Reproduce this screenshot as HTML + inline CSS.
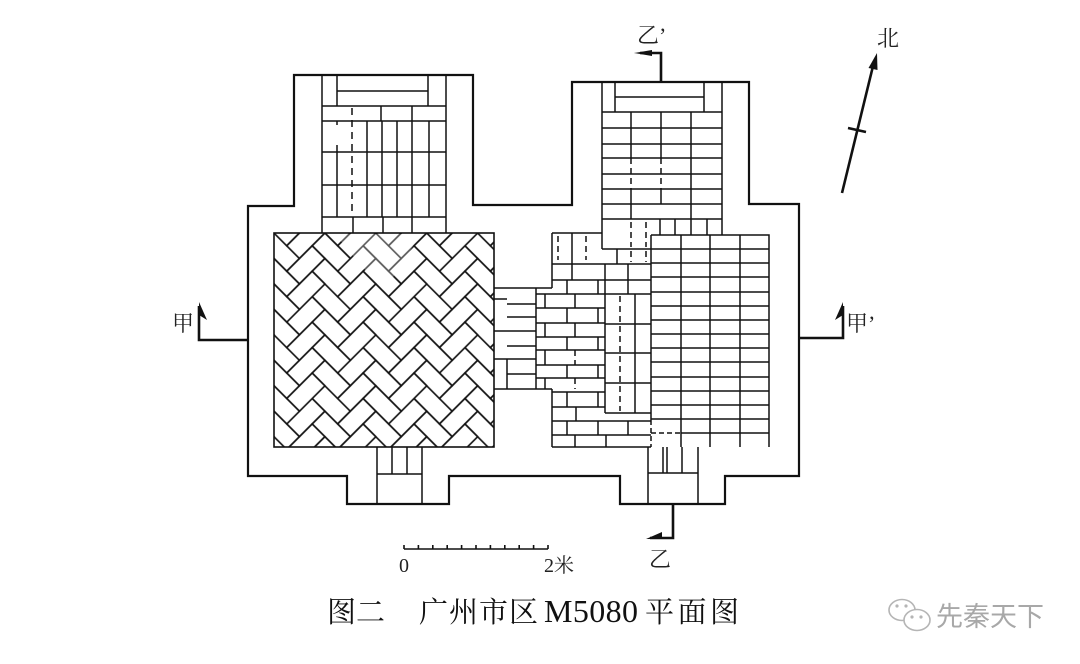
<!DOCTYPE html>
<html><head><meta charset="utf-8"><style>
html,body{margin:0;padding:0;background:#fff;}
svg{display:block;}
</style></head><body>
<svg width="1080" height="664" viewBox="0 0 1080 664" xmlns="http://www.w3.org/2000/svg">
<defs>
<g id="hb" fill="none" stroke="#111" stroke-width="1.5">
  <rect x="0" y="0" width="36" height="18"/><rect x="0" y="18" width="18" height="36"/>
  <rect x="18" y="18" width="36" height="18"/><rect x="18" y="36" width="18" height="36"/>
  <rect x="36" y="36" width="36" height="18"/><rect x="36" y="54" width="18" height="36"/>
  <rect x="54" y="54" width="36" height="18"/><rect x="54" y="72" width="18" height="36"/>
</g>
<pattern id="herr" patternUnits="userSpaceOnUse" width="72" height="72" patternTransform="translate(274,233) rotate(45)">
  <use href="#hb"/><use href="#hb" x="-72"/><use href="#hb" y="-72"/><use href="#hb" x="-72" y="-72"/>
</pattern>
</defs>
<rect width="1080" height="664" fill="#fff"/>

<!-- herringbone floor -->
<rect x="274" y="233" width="220" height="214" fill="url(#herr)"/>
<polygon points="335,234 420,234 400,268 383,290 360,264" fill="#fff" fill-opacity="0.3"/>
<rect x="274" y="233" width="220" height="214" fill="none" stroke="#111" stroke-width="1.6"/>

<!-- outer wall -->
<path d="M294,75 H473 V205 H572 V82 H749 V204 H799 V476 H725 V504 H620 V476 H449 V504 H347 V476 H248 V206 H294 Z" fill="none" stroke="#111" stroke-width="2.2"/>

<g fill="none" stroke="#111" stroke-width="1.5">
<!-- left column -->
<path d="M322,75 V233 M446,75 V233 M337,75 V106 M428,75 V106 M337,91 H428 M322,106 H446
M381,106 V121 M412,106 V121
M322,121 H446 M322,152 H446 M322,185 H446 M322,217 H446
M337,121 V125 M337,145 V217 M367,121 V217 M382,121 V217 M397,121 V217 M412,121 V217 M429,121 V217
M353,217 V233 M383,217 V233 M412,217 V233"/>
<path d="M352,108 V215" stroke-dasharray="7 5"/>

<!-- right column -->
<path d="M602,82 V249 M722,82 V235 M615,82 V112 M704,82 V112 M615,97 H704 M602,112 H722
M602,128 H722 M602,144 H722 M602,158 H722 M602,174 H722 M602,189 H722 M602,204 H722 M602,219 H722
M631,112 V158 M631,189 V219 M661,112 V158 M661,189 V204 M691,112 V235
M660,219 V235 M675,219 V235 M707,219 V235"/>
<path d="M631,158 V189 M661,158 V189 M631,222 V247 M646,222 V247" stroke-dasharray="6 4"/>

<!-- big grid -->
<path d="M651,235 H769 V447 M651,235 V420 M681,235 V447 M710,235 V447 M740,235 V447
M651,249 H769 M651,263 H769 M651,277 H769 M651,292 H769 M651,306 H769 M651,320 H769 M651,334 H769
M651,348 H769 M651,362 H769 M651,377 H769 M651,391 H769 M651,405 H769 M651,419 H769 M681,433 H769"/>
<path d="M651,420 V447 M651,433 H681" stroke-dasharray="5 3"/>

<!-- middle block -->
<path d="M552,233 H602 M552,233 V288 M494,288 H552 M536,288 V389 M494,389 H552 M552,389 V447 M552,447 H651
M602,249 H651 M617,249 V264 M552,264 H651 M572,233 V280 M605,264 V413 M628,264 V294
M552,280 H651 M567,280 V294 M598,280 V294 M536,294 H651
M545,294 V308 M575,294 V308 M536,308 H605 M567,308 V323 M598,308 V323 M536,323 H605
M545,323 V337 M575,323 V337 M536,337 H605 M567,337 V350 M598,337 V350 M536,350 H605
M545,350 V365 M536,365 H605 M567,365 V378 M598,365 V378 M536,378 H605 M545,378 V389
M552,392 H605 M567,392 V407 M598,392 V407 M552,407 H605 M576,407 V421
M605,324 H651 M605,353 H651 M605,383 H651 M605,413 H651 M635,294 V413
M552,421 H651 M567,421 V435 M598,421 V435 M628,421 V435 M552,435 H651 M575,435 V447 M606,435 V447"/>
<path d="M558,236 V260 M586,236 V260 M631,251 V262 M646,251 V262 M620,296 V411 M575,350 V365 M575,378 V389" stroke-dasharray="6 4"/>

<!-- passage -->
<path d="M494,299 H507 M507,304 H536 M507,317 H536 M494,331 H536 M507,346 H536 M494,359 H536 M507,374 H536 M507,359 V389"/>

<!-- bottom left entrance -->
<path d="M377,447 V504 M422,447 V504 M377,474 H422 M392,447 V474 M407,447 V474"/>
<!-- bottom right entrance -->
<path d="M648,447 V504 M698,447 V504 M648,473 H698 M663,447 V473 M667,447 V473 M682,447 V473"/>
</g>

<!-- section markers -->
<g fill="none" stroke="#111" stroke-width="2.6">
<path d="M248,340 H199 V306"/>
<path d="M798,338 H843 V306"/>
<path d="M661,82 V53 H640"/>
<path d="M673,504 V538 H650"/>
<path d="M842,193 L874,62"/>
<path d="M848,128 L866,132"/>
</g>
<g fill="#111">
<polygon points="199,302 207,320 199,315"/>
<polygon points="843,302 835,320 843,315"/>
<polygon points="634,53 652,50 652,56"/>
<polygon points="646,539 662,532 662,539"/>
<polygon points="877,53 877.5,70 868.5,68"/>
</g>

<!-- scale bar -->
<path d="M404,549 H548 M404,545 V549 M418.4,545 V549 M432.8,545 V549 M447.2,545 V549 M461.6,545 V549 M476,545 V549 M490.4,545 V549 M504.8,545 V549 M519.2,545 V549 M533.6,545 V549 M548,545 V549" fill="none" stroke="#111" stroke-width="1.6"/>

<g font-family="'Liberation Serif','Noto Serif CJK SC',serif" fill="#222">
<text x="399" y="572" font-size="20">0</text>
<text x="544" y="572" font-size="20">2米</text>
<text x="172" y="331" font-size="22">甲</text>
<text x="846" y="331" font-size="22">甲’</text>
<text x="637" y="43" font-size="22">乙’</text>
<text x="649" y="567" font-size="22">乙</text>
<text x="877" y="46" font-size="22">北</text>
</g>

<!-- caption -->
<g font-family="'Liberation Serif','Noto Serif CJK SC',serif" fill="#111">
<text x="327" y="622" font-size="29">图二</text>
<text x="419" y="622" font-size="29" textLength="119">广州市区</text>
<text x="544" y="622" font-size="32" textLength="94">M5080</text>
<text x="645" y="622" font-size="29" textLength="94">平面图</text>
</g>

<!-- watermark -->
<g fill="none" stroke="#b5b5b5" stroke-width="1.6">
<ellipse cx="902" cy="610" rx="13" ry="10.5" fill="#fff"/>
<ellipse cx="917" cy="620" rx="13" ry="10.5" fill="#fff"/>
</g>
<g fill="#b5b5b5">
<circle cx="897" cy="606" r="1.6"/><circle cx="906" cy="606" r="1.6"/>
<circle cx="912" cy="617" r="1.6"/><circle cx="921" cy="617" r="1.6"/>
</g>
<text x="936" y="626" font-family="'Liberation Sans','Noto Sans CJK SC',sans-serif" font-size="27" fill="#a8a8a8">先秦天下</text>
</svg>
</body></html>
